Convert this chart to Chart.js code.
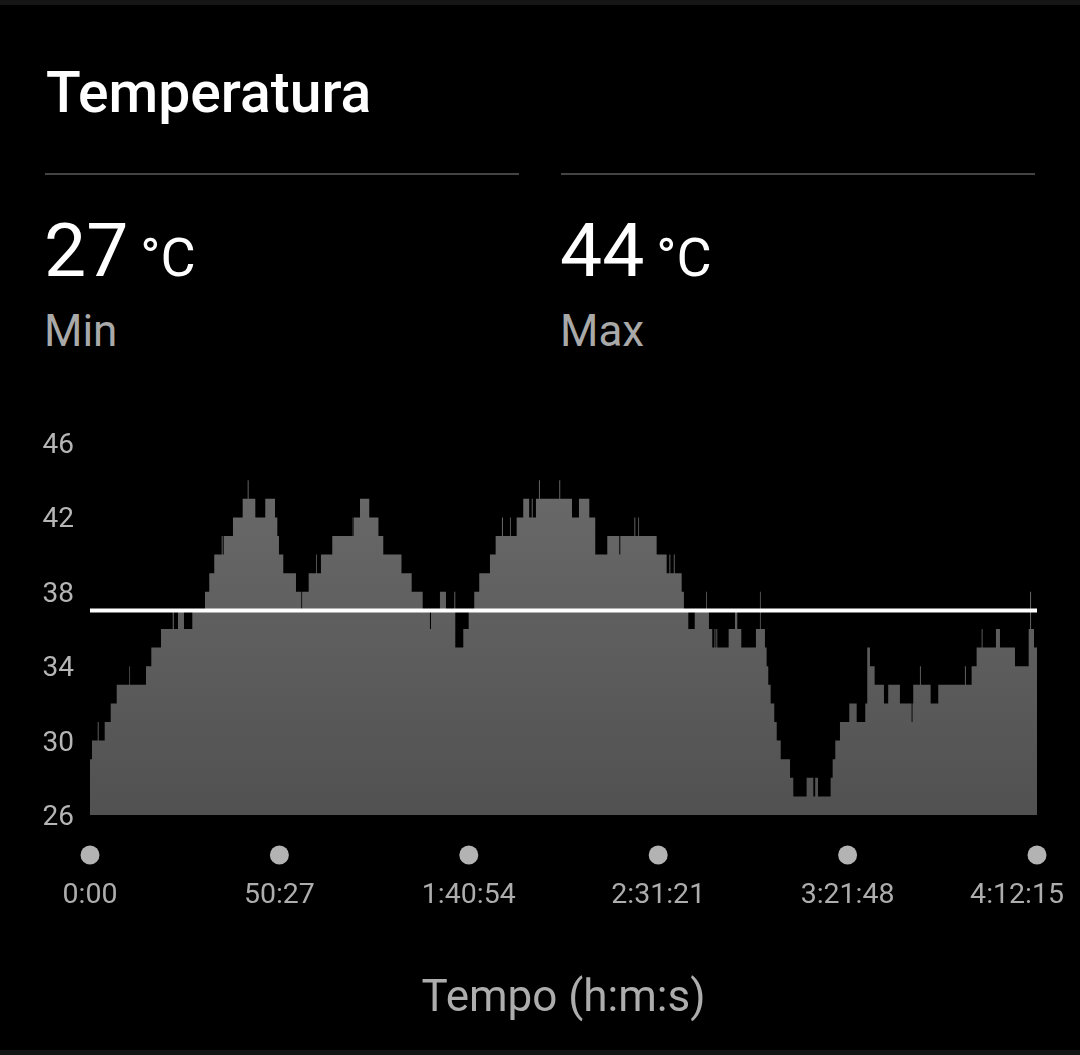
<!DOCTYPE html>
<html>
<head>
<meta charset="utf-8">
<script src="https://cdn.jsdelivr.net/npm/chart.js@4.4.1/dist/chart.umd.min.js"></script>
<style>
  html, body { margin: 0; padding: 0; background: #000; }
  body { width: 1080px; height: 1055px; position: relative; overflow: hidden; font-family: Roboto, 'Noto Sans', sans-serif; }
  .topbar { position: absolute; left: 0; top: 0; width: 1080px; height: 5px; background: #161616; }
  .botbar { position: absolute; left: 0; bottom: 0; width: 1080px; height: 5px; background: #141414; }
  h1 { position: absolute; left: 46px; top: 58px; margin: 0; font-size: 57px; font-weight: 500; color: #fff; line-height: 70px; }
  .rule { position: absolute; top: 173px; height: 2px; background: #444; }
  .stat { position: absolute; top: 205px; }
  .val { font-size: 75px; color: #fff; line-height: 90px; white-space: nowrap; }
  .val span { font-size: 54px; margin-left: 12px; }
  .lbl { font-size: 44px; color: #a9a9a9; line-height: 56px; margin-top: 0px; }
  #wrap { position: absolute; left: 0; top: 420px; width: 1080px; height: 620px; }
</style>
</head>
<body>
<div class="topbar"></div>
<h1>Temperatura</h1>
<div class="rule" style="left:45px;width:474px"></div>
<div class="rule" style="left:561px;width:474px"></div>
<div class="stat" style="left:44px"><div class="val">27<span>°C</span></div><div class="lbl">Min</div></div>
<div class="stat" style="left:560px"><div class="val">44<span>°C</span></div><div class="lbl">Max</div></div>
<div id="wrap"><canvas id="tempChart" width="1080" height="620"></canvas></div>
<div class="botbar"></div>
<script>
const FONT  = "Roboto, 'Noto Sans', sans-serif";
const MUTED = '#adadad';

// temperature changes: value holds from that second until the next entry
const times = [
  0, 32, 123, 140, 235, 331, 427, 628, 640, 895, 980, 1135, 1322, 1340, 1406, 1502, 1635,
  1838, 1906, 1986, 2105, 2120, 2137, 2285, 2440, 2520, 2535, 2642, 2801, 2957, 2994, 3020,
  3089, 3292, 3377, 3390, 3495, 3612, 3625, 3691, 3872, 4198, 4210, 4219, 4315, 4463, 4610,
  4687, 4978, 5141, 5317, 5433, 5450, 5593, 5689, 5822, 5838, 5966, 6052, 6141, 6221, 6392,
  6483, 6584, 6600, 6712, 6725, 6819, 6924, 7019, 7060, 7075, 7127, 7175, 7190, 7500, 7515,
  7703, 7815, 7980, 8075, 8267, 8459, 8475, 8700, 8715, 8762, 8775, 9056, 9216, 9260, 9275,
  9330, 9345, 9456, 9492, 9562, 9665, 9847, 9860, 9892, 9945, 9980, 9995, 10010, 10025,
  10207, 10308, 10345, 10409, 10643, 10707, 10720, 10787, 10814, 10840, 10878, 10936, 10975,
  11039, 11188, 11240, 11453, 11560, 11590, 11635, 11837, 11869, 11911, 11986, 12135, 12253,
  12390, 12422, 12465, 12540, 12689, 12757, 12944, 13131, 13145, 13157, 13264, 13280, 13435,
  13557, 13983, 14000, 14090, 14170, 14250, 14265, 14479, 14543, 14783, 15002, 15023, 15040,
  15087, 15135
];
const temps = [
  29, 30, 31, 30, 31, 32, 33, 34, 33, 34, 35, 36, 37, 36, 37, 36, 37,
  38, 39, 40, 41, 40, 41, 42, 43, 44, 43, 42, 43, 42, 41, 40,
  39, 38, 37, 38, 39, 40, 39, 40, 41, 42, 41, 42, 43, 42, 41,
  40, 39, 38, 37, 36, 37, 38, 37, 38, 35, 36, 37, 38, 39, 40,
  41, 42, 41, 42, 41, 42, 43, 42, 43, 42, 43, 44, 43, 44, 43,
  42, 43, 42, 40, 41, 40, 41, 42, 41, 42, 41, 40, 39, 40, 39,
  40, 39, 38, 37, 36, 37, 38, 37, 36, 35, 36, 35, 36, 35,
  36, 37, 36, 35, 36, 38, 36, 35, 34, 33, 32, 31, 30,
  29, 28, 27, 28, 27, 28, 27, 28, 29, 30, 31, 32, 31,
  32, 35, 34, 33, 32, 33, 32, 31, 32, 33, 34, 33, 32,
  33, 34, 33, 34, 35, 36, 35, 36, 35, 34, 36, 38, 36,
  35, 35
];
const avgTemp = 37;

const xTickValues = [0, 3027, 6054, 9081, 12108, 15135];
const xTickLabels = ['0:00', '50:27', '1:40:54', '2:31:21', '3:21:48', '4:12:15'];
const yTicks = [26, 30, 34, 38, 42, 46];

const series = times.map((t, i) => ({ x: t, y: temps[i] }));
const avgLine = [{ x: times[0], y: avgTemp }, { x: times[times.length - 1], y: avgTemp }];

// grey dots above each time label, last label kept inside the card
const tickDots = {
  id: 'tickDots',
  beforeDraw(chart) {
    const { x, y } = chart.scales;
    const items = x.getLabelItems();
    const last = items[items.length - 1];
    if (last) {
      last.options.textAlign = 'right';
      last.options.translation[0] = chart.width - 16;
    }
    y.getLabelItems().forEach(it => { it.options.translation[1] += 3; });
  },
  afterDraw(chart) {
    const { ctx, scales: { x } } = chart;
    ctx.save();
    ctx.fillStyle = '#b3b3b3';
    xTickValues.forEach(v => {
      ctx.beginPath();
      ctx.arc(x.getPixelForValue(v), x.top + 40, 9.5, 0, Math.PI * 2);
      ctx.fill();
    });
    ctx.restore();
  }
};

new Chart(document.getElementById('tempChart'), {
  type: 'line',
  data: {
    datasets: [
      {
        data: avgLine,
        borderColor: '#ffffff',
        borderWidth: 4,
        pointRadius: 0,
        fill: false,
        order: 0,
      },
      {
        data: series,
        stepped: 'before',
        borderWidth: 0,
        borderColor: 'rgba(0,0,0,0)',
        pointRadius: 0,
        fill: 'start',
        order: 1,
        backgroundColor: c => {
          const area = c.chart.chartArea;
          if (!area) return '#5e5e5e';
          const g = c.chart.ctx.createLinearGradient(0, area.top, 0, area.bottom);
          g.addColorStop(0, '#6c6c6c');
          g.addColorStop(1, '#515151');
          return g;
        },
      }
    ]
  },
  options: {
    responsive: false,
    animation: false,
    layout: { padding: { top: 23, right: 43, left: 0, bottom: 0 } },
    plugins: { legend: { display: false }, tooltip: { enabled: false } },
    scales: {
      x: {
        type: 'linear',
        min: 0, max: 15135,
        grid: { display: false, drawTicks: false },
        border: { display: false },
        afterBuildTicks: s => { s.ticks = xTickValues.map(v => ({ value: v })); },
        afterFit: s => { s.height = 225; s.paddingLeft = 0; s.paddingRight = 0; },
        ticks: {
          autoSkip: false, maxRotation: 0, padding: 64,
          color: MUTED, font: { family: FONT, size: 28.5 },
          callback: (v, i) => xTickLabels[i],
        },
        title: {
          display: true, text: 'Tempo (h:m:s)', color: MUTED,
          font: { family: FONT, size: 44 }, padding: { top: 0, bottom: 14 },
        },
      },
      y: {
        min: 26, max: 46,
        grid: { display: false, drawTicks: false },
        border: { display: false },
        afterBuildTicks: s => { s.ticks = yTicks.map(v => ({ value: v })); },
        afterFit: s => { s.width = 90; s.paddingTop = 0; s.paddingBottom = 0; },
        ticks: { padding: 16, color: '#b5b5b5', font: { family: FONT, size: 28 } },
      }
    }
  },
  plugins: [tickDots]
});
</script>
</body>
</html>
